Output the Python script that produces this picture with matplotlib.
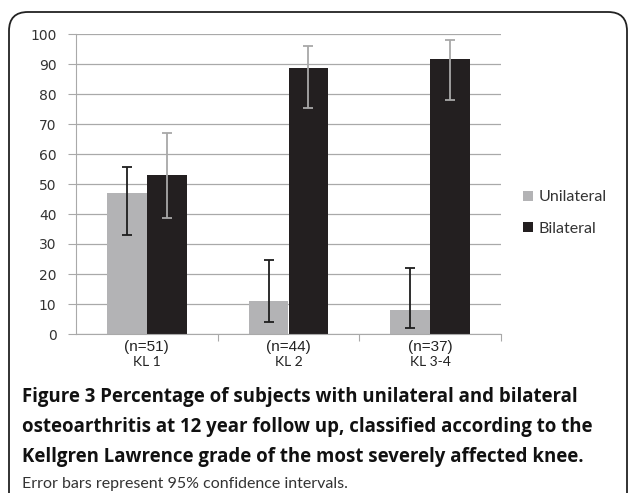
import matplotlib
matplotlib.use("Agg")
import matplotlib.pyplot as plt
from matplotlib.patches import FancyBboxPatch, Patch
import numpy as np

categories = ["(n=51)\nKL 1", "(n=44)\nKL 2", "(n=37)\nKL 3-4"]
n_labels = ["(n=51)", "(n=44)", "(n=37)"]
kl_labels = ["KL 1", "KL 2", "KL 3-4"]
unilateral = [47, 11, 8]
unilateral_lo = [33, 4, 2]
unilateral_hi = [55.8, 24.7, 22]
bilateral = [53, 88.6, 91.8]
bilateral_lo = [38.6, 75.2, 78]
bilateral_hi = [67.1, 96.1, 98.1]
yticks = list(range(0, 101, 10))

W, H = 629, 493
fig = plt.figure(figsize=(W / 100, H / 100), dpi=100)

# border
box = FancyBboxPatch((9 / W, -0.05), 618 / W, (H - 12) / H + 0.05,
                     boxstyle="round,pad=0,rounding_size=0.03",
                     transform=fig.transFigure, fill=False, lw=1.3,
                     edgecolor="#222222", mutation_aspect=W / H)
fig.patches.append(box)

ax = fig.add_axes([76 / W, 1 - 334 / H, (501 - 76) / W, 300 / H])
x = np.arange(len(categories))
bw = 0.282
uni_c = "#b3b3b5"
bil_c = "#231f20"
ax.bar(x - bw / 2, unilateral, bw, color=uni_c, zorder=2)
ax.bar(x + bw / 2, bilateral, bw, color=bil_c, zorder=2)
u = np.array(unilateral); b = np.array(bilateral)
ax.errorbar(x - bw / 2, u, yerr=[u - np.array(unilateral_lo), np.array(unilateral_hi) - u],
            fmt="none", ecolor="#1e1e1e", elinewidth=1.3, capsize=3.3, capthick=1.3, zorder=3)
ax.errorbar(x + bw / 2, b, yerr=[b - np.array(bilateral_lo), np.array(bilateral_hi) - b],
            fmt="none", ecolor="#a8a8a8", elinewidth=1.3, capsize=3.3, capthick=1.3, zorder=3)

ax.set_xlim(-0.5, 2.5)
ax.set_ylim(0, 100)
ax.set_yticks(yticks)
ax.set_yticklabels([str(t) for t in yticks], fontsize=10, color="#333333", family="DejaVu Sans")
ax.yaxis.grid(True, color="#a9a9a9", lw=0.9, zorder=0)
ax.tick_params(axis="y", length=6, color="#a9a9a9", pad=8)
ax.set_xticks([0.5, 1.5, 2.5], minor=False)
ax.set_xticklabels([])
ax.tick_params(axis="x", length=5, color="#a9a9a9", direction="out")
for s in ["top", "right"]:
    ax.spines[s].set_visible(False)
ax.spines["left"].set_color("#a9a9a9")
ax.spines["bottom"].set_color("#a9a9a9")
ax.spines["left"].set_bounds(0, 100)

for i in range(len(categories)):
    ax.text(x[i], -4.3, n_labels[i], ha="center", va="center", fontsize=11,
            family="Liberation Sans", color="#222222")
    ax.text(x[i], -9.3, kl_labels[i], ha="center", va="center", fontsize=10,
            family="Lato", color="#222222")

handles = [Patch(facecolor=uni_c, label="Unilateral"), Patch(facecolor=bil_c, label="Bilateral")]
fig.legend(handles=handles, loc="center left", bbox_to_anchor=(509 / W, 1 - 213 / H),
           frameon=False, handlelength=0.6, handleheight=0.6, handletextpad=0.35,
           labelspacing=1.1, prop={"family": "Lato", "size": 11.5},
           labelcolor="#333333")

cap_lines = [
    "Figure 3 Percentage of subjects with unilateral and bilateral",
    "osteoarthritis at 12 year follow up, classified according to the",
    "Kellgren Lawrence grade of the most severely affected knee.",
]
ys = [397, 427, 457]
for line, yy in zip(cap_lines, ys):
    fig.text(22 / W, 1 - yy / H, line, ha="left", va="center", fontsize=13.4,
             family="Open Sans", weight="bold", color="#111111")
fig.text(22 / W, 1 - 484 / H, "Error bars represent 95% confidence intervals.",
         ha="left", va="center", fontsize=11.5, family="Lato", color="#333333")

fig.savefig("out.png", dpi=100)
